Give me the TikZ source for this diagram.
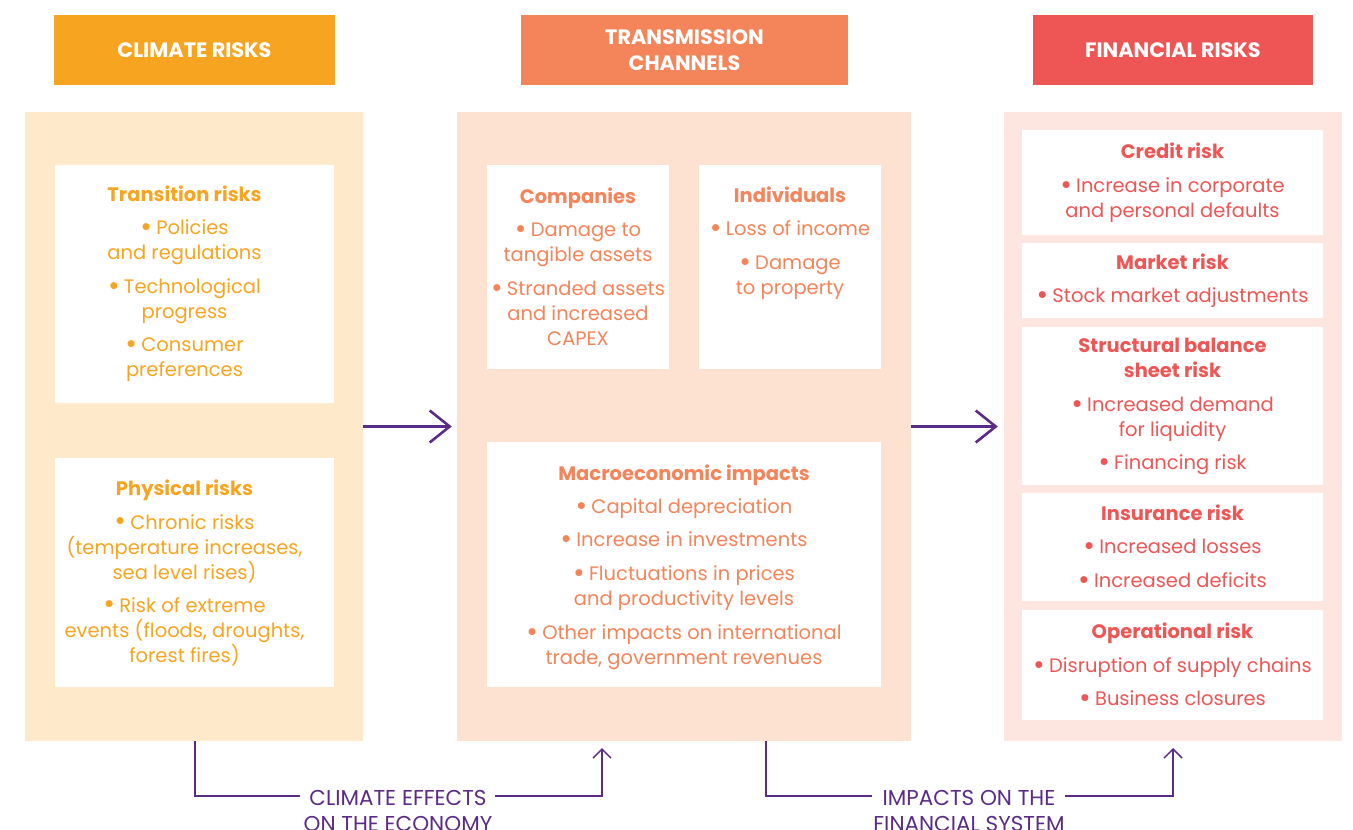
\documentclass[tikz,border=0pt]{standalone}
\usepackage{fontspec}
\setmainfont{Poppins}
\usetikzlibrary{arrows.meta}
\definecolor{cOr}{HTML}{F7A520}
\definecolor{cSal}{HTML}{F4845A}
\definecolor{cRed}{HTML}{EE5656}
\definecolor{bgOr}{HTML}{FEEACB}
\definecolor{bgSal}{HTML}{FDE1D1}
\definecolor{bgRed}{HTML}{FDE6E0}
\definecolor{cPur}{HTML}{5B2C86}
\newcommand\bul{\raisebox{-0.1em}{\scalebox{1.45}{•}}\hspace{0.22em}}
\tikzset{
  hdr/.style={inner sep=0pt, text=white, align=center, font=\fontsize{20.8}{26}\selectfont\bfseries},
  panel/.style={inner sep=0pt},
  box/.style={fill=white, inner sep=0pt, align=center, font=\fontsize{19.5}{25}\selectfont},
  txt/.style={inner sep=0pt, align=center, font=\fontsize{19.5}{25}\selectfont},
  arr/.style={draw=cPur, line width=2.6pt, -{Straight Barb[length=20pt, width=32pt, line width=2.6pt]}},
  conn/.style={draw=cPur, line width=1.5pt},
  connarr/.style={draw=cPur, line width=1.5pt, -{Straight Barb[length=9pt, width=18pt, line width=1.5pt]}},
  btm/.style={inner sep=0pt, align=center, text=cPur, font=\fontsize{21.5}{26}\selectfont},
}
\begin{document}
\begin{tikzpicture}[x=1pt, y=-1pt]
\useasboundingbox (0,0) rectangle (1353,830);
% headers
\node[hdr, fill=cOr, minimum width=281pt, minimum height=70pt] (h1) at (194.5,50) {CLIMATE RISKS};
\node[hdr, fill=cSal, minimum width=327pt, minimum height=70pt] (h2) at (684.5,50) {TRANSMISSION\\CHANNELS};
\node[hdr, fill=cRed, minimum width=280pt, minimum height=70pt] (h3) at (1173,50) {FINANCIAL RISKS};
% panels
\node[panel, fill=bgOr, minimum width=338pt, minimum height=629pt] (p1) at (194,426.5) {};
\node[panel, fill=bgSal, minimum width=454pt, minimum height=629pt] (p2) at (684,426.5) {};
\node[panel, fill=bgRed, minimum width=338pt, minimum height=629pt] (p3) at (1173,426.5) {};
% climate risks
\node[box, minimum width=279pt, minimum height=238pt] (tr) at (194.5,284) {};
\node[txt, text=cOr] (trtx) at ([xshift=-10pt]tr.center)
  {\textbf{Transition risks}\\[8pt] \bul Policies\\and regulations\\[9pt] \bul Technological\\progress\\[8pt] \bul Consumer\\preferences};
\node[box, minimum width=279pt, minimum height=229pt] (ph) at (194.5,572.5) {};
\node[txt, text=cOr] (phtx) at ([xshift=-10pt]ph.center)
  {\textbf{Physical risks}\\[9pt] \bul Chronic risks\\(temperature increases,\\sea level rises)\\[8pt] \bul Risk of extreme\\events (floods, droughts,\\forest fires)};
% transmission channels
\node[box, text=cSal, minimum width=182pt, minimum height=204pt] (co) at (578,267)
  {\textbf{Companies}\\[8pt] \bul Damage to\\tangible assets\\[9pt] \bul Stranded assets\\and increased\\CAPEX};
\node[box, minimum width=182pt, minimum height=204pt] (in) at (790,267) {};
\node[txt, text=cSal, anchor=north] (intx) at ([yshift=-22pt]in.north)
  {\textbf{Individuals}\\[8pt] \bul Loss of income\\[9pt] \bul Damage\\to property};
\node[box, minimum width=394pt, minimum height=245pt] (ma) at (684,564.5) {};
\node[txt, text=cSal] (matx) at ([yshift=-3pt]ma.center)
  {\textbf{Macroeconomic impacts}\\[8pt] \bul Capital depreciation\\[8pt] \bul Increase in investments\\[9pt] \bul Fluctuations in prices\\and productivity levels\\[9pt] \bul Other impacts on international\\trade, government revenues};
% financial risks
\node[box, text=cRed, minimum width=301pt, minimum height=105pt] (cr) at (1172.5,182.5)
  {\textbf{Credit risk}\\[9pt] \bul Increase in corporate\\and personal defaults};
\node[box, text=cRed, minimum width=301pt, minimum height=75pt] (mk) at (1172.5,280.5)
  {\textbf{Market risk}\\[8pt] \bul Stock market adjustments};
\node[box, text=cRed, minimum width=301pt, minimum height=158pt] (st) at (1172.5,406)
  {\textbf{Structural balance}\\\textbf{sheet risk}\\[9pt] \bul Increased demand\\for liquidity\\[8pt] \bul Financing risk};
\node[box, text=cRed, minimum width=301pt, minimum height=108pt] (is) at (1172.5,547)
  {\textbf{Insurance risk}\\[8pt] \bul Increased losses\\[9pt] \bul Increased deficits};
\node[box, text=cRed, minimum width=301pt, minimum height=110pt] (op) at (1172.5,665)
  {\textbf{Operational risk}\\[9pt] \bul Disruption of supply chains\\[8pt] \bul Business closures};
% main arrows
\draw[arr, shorten >=5pt] (p1.east) -- (p2.west);
\draw[arr, shorten >=6pt] (p2.east) -- (p3.west);
% bottom connectors
\node[btm, anchor=north] (ce) at (398,790) {CLIMATE EFFECTS\\ON THE ECONOMY};
\node[btm, anchor=north] (fs) at (969,790) {IMPACTS ON THE\\FINANCIAL SYSTEM};
\coordinate (a1) at (195,741);
\coordinate (a2) at (300,796);
\coordinate (a3) at (495,796);
\coordinate (a4) at (602,748);
\coordinate (b1) at (766,741);
\coordinate (b2) at (872,796);
\coordinate (b3) at (1065,796);
\coordinate (b4) at (1173,748);
\draw[conn] (a1) |- (a2);
\draw[connarr] (a3) -| (a4);
\draw[conn] (b1) |- (b2);
\draw[connarr] (b3) -| (b4);
\end{tikzpicture}
\end{document}
